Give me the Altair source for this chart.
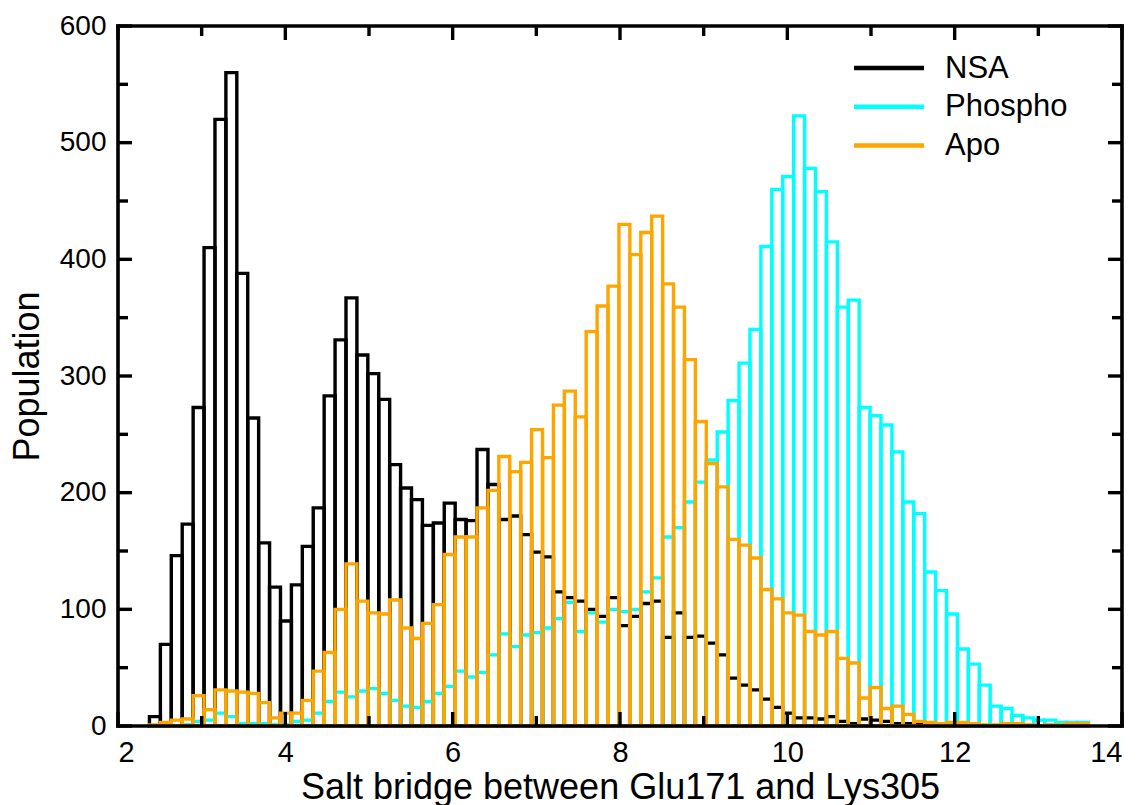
import altair as alt
import pandas as pd

# Histogram bins (shared by all three series)
bin_start = 2.376
bin_width = 0.1305

nsa = [8, 70, 146, 173, 273, 410, 520, 560, 388, 264, 157, 119, 90, 121, 154, 187,
       283, 331, 367, 318, 302, 280, 224, 204, 194, 172, 174, 191, 177, 176, 237, 207,
       177, 180, 164, 149, 145, 115, 110, 107, 100, 94, 110, 86, 94, 105, 107, 76,
       97, 76, 77, 71, 61, 41, 35, 31, 23, 16, 11, 7, 7, 6, 8, 4, 2, 6,
       5, 4, 2, 2, 3, 1, 1, 1, 0, 0, 0, 0, 0, 0, 0, 0, 0, 0, 0, 0]

phospho = [0, 0, 0, 1, 4, 5, 11, 8, 2, 2, 2, 1, 1, 4, 5, 11,
           21, 29, 25, 30, 32, 28, 22, 17, 16, 21, 28, 34, 47, 42, 46, 61,
           79, 68, 78, 80, 84, 92, 106, 81, 97, 89, 100, 98, 100, 115, 127, 162,
           170, 192, 209, 228, 252, 279, 311, 340, 411, 460, 471, 523, 478, 458, 415, 359,
           365, 273, 266, 258, 235, 192, 182, 132, 116, 96, 66, 53, 35, 17, 15, 9,
           7, 5, 5, 3, 3, 3]

apo = [1, 3, 5, 6, 26, 14, 31, 30, 29, 28, 20, 7, 11, 11, 22, 47,
       63, 100, 139, 107, 97, 96, 108, 84, 75, 88, 104, 147, 162, 162, 187, 202,
       231, 218, 226, 254, 230, 275, 287, 265, 338, 360, 377, 430, 404, 423, 437, 379,
       359, 314, 261, 225, 205, 160, 155, 144, 117, 109, 97, 95, 81, 78, 81, 58,
       54, 24, 33, 15, 17, 10, 4, 3, 2, 3, 3, 2, 1, 1, 2, 2,
       1, 0, 1, 1, 2, 2]

series_names = ["NSA", "Phospho", "Apo"]
series_colors = ["#000000", "#00FFFF", "#FFA500"]
series_values = [nsa, phospho, apo]

x_major = [2, 4, 6, 8, 10, 12, 14]
x_minor = [3, 5, 7, 9, 11, 13]
y_major = [0, 100, 200, 300, 400, 500, 600]
y_minor = [50, 150, 250, 350, 450, 550]

W, H = 1004, 700
FONT = "Liberation Sans"
LW = 3.4

xscale = alt.Scale(domain=[2, 14], nice=False, zero=False)
yscale = alt.Scale(domain=[0, 600], nice=False)

layers = []
for name, color, vals in zip(series_names, series_colors, series_values):
    df = pd.DataFrame({
        "x0": [bin_start + i * bin_width for i in range(len(vals))],
        "x1": [bin_start + (i + 1) * bin_width for i in range(len(vals))],
        "count": vals,
        "base": [0] * len(vals),
        "series": [name] * len(vals),
    })
    layers.append(
        alt.Chart(df).mark_rect(filled=False, fillOpacity=0, stroke=color, strokeWidth=LW)
        .encode(
            x=alt.X("x0:Q", scale=xscale,
                    axis=alt.Axis(values=x_major, format="d", ticks=False, domain=False, grid=False,
                                  labelFontSize=29, labelFont=FONT, labelColor="black",
                                  labelPadding=12, title="Salt bridge between Glu171 and Lys305",
                                  titleFontSize=36, titleFont=FONT, titleFontWeight="normal",
                                  titleColor="black", titlePadding=3)),
            x2="x1:Q",
            y=alt.Y("count:Q", scale=yscale,
                    axis=alt.Axis(values=y_major, format="d", ticks=False, domain=False, grid=False,
                                  labelFontSize=28, labelFont=FONT, labelColor="black",
                                  labelPadding=12, title="Population",
                                  titleFontSize=36, titleFont=FONT, titleFontWeight="normal",
                                  titleColor="black", titlePadding=13)),
            y2="base:Q",
        )
    )

# inward ticks on all four sides
def xticks(vals, length):
    d = pd.DataFrame({"t": vals})
    bottom = alt.Chart(d).mark_rule(color="black", strokeWidth=LW).encode(
        x=alt.X("t:Q", scale=xscale), y=alt.value(H), y2=alt.value(H - length))
    top = alt.Chart(d).mark_rule(color="black", strokeWidth=LW).encode(
        x=alt.X("t:Q", scale=xscale), y=alt.value(0), y2=alt.value(length))
    return [bottom, top]

def yticks(vals, length):
    d = pd.DataFrame({"t": vals})
    left = alt.Chart(d).mark_rule(color="black", strokeWidth=LW).encode(
        y=alt.Y("t:Q", scale=yscale), x=alt.value(0), x2=alt.value(length))
    right = alt.Chart(d).mark_rule(color="black", strokeWidth=LW).encode(
        y=alt.Y("t:Q", scale=yscale), x=alt.value(W), x2=alt.value(W - length))
    return [left, right]

tick_layers = xticks(x_major, 14) + xticks(x_minor, 10) + yticks(y_major, 14) + yticks(y_minor, 10)

# frame (box around the plot area)
frame_df = pd.DataFrame({"k": [0]})
frame_layers = [
    alt.Chart(frame_df).mark_rule(color="black", strokeWidth=3.6, strokeCap="square").encode(
        x=alt.value(0), x2=alt.value(W), y=alt.value(0)),
    alt.Chart(frame_df).mark_rule(color="black", strokeWidth=3.6, strokeCap="square").encode(
        x=alt.value(0), x2=alt.value(W), y=alt.value(H)),
    alt.Chart(frame_df).mark_rule(color="black", strokeWidth=3.6, strokeCap="square").encode(
        x=alt.value(0), y=alt.value(0), y2=alt.value(H)),
    alt.Chart(frame_df).mark_rule(color="black", strokeWidth=3.6, strokeCap="square").encode(
        x=alt.value(W), y=alt.value(0), y2=alt.value(H)),
]

# legend (top right)
legend_layers = []
for i, (name, color) in enumerate(zip(series_names, series_colors)):
    ly = 42 + 38.8 * i
    d = pd.DataFrame({"name": [name]})
    legend_layers.append(
        alt.Chart(d).mark_rule(color=color, strokeWidth=4.5).encode(
            x=alt.value(736), x2=alt.value(806), y=alt.value(ly)))
    legend_layers.append(
        alt.Chart(d).mark_text(align="left", baseline="alphabetic", fontSize=31,
                               font=FONT, color="black").encode(
            x=alt.value(827), y=alt.value(ly + 9.5), text="name:N"))

chart = alt.layer(*layers, *tick_layers, *frame_layers, *legend_layers).properties(
    width=W, height=H,
    background="white",
    autosize=alt.AutoSizeParams(type="none"),
    padding={"left": 118, "top": 26, "right": 19, "bottom": 79},
).configure_view(stroke=None)

chart.save("out.html", embed_options={"renderer": "svg", "actions": False})
